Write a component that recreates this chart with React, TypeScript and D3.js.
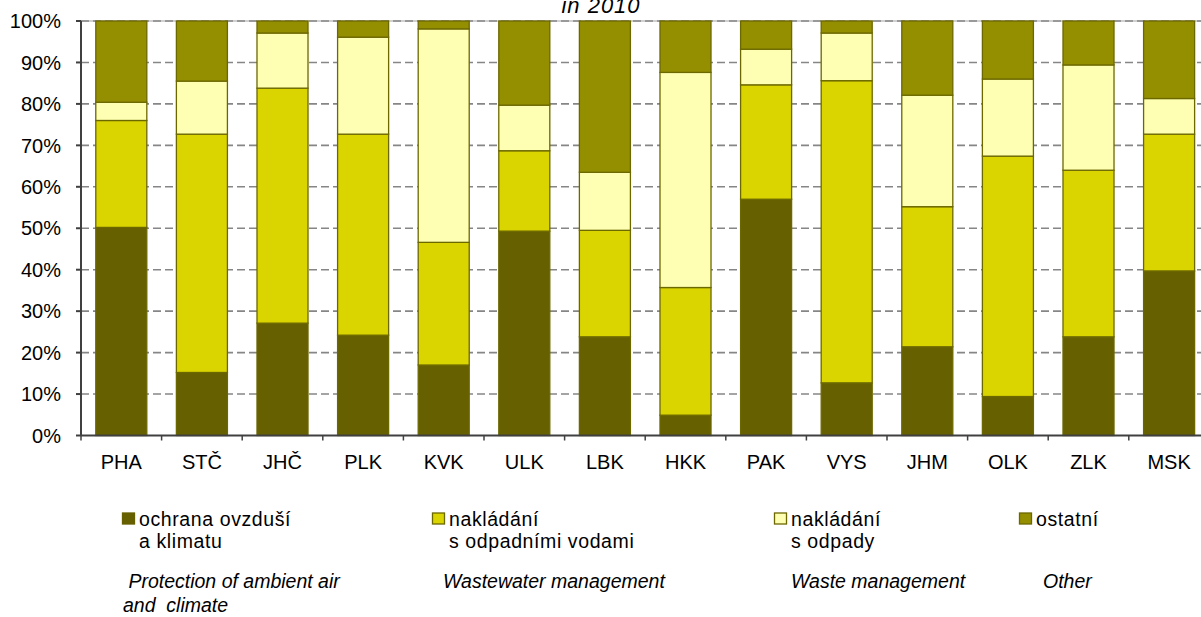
import React from "react";
import * as d3 from "d3";

const categories = ["PHA", "STČ", "JHČ", "PLK", "KVK", "ULK", "LBK", "HKK", "PAK", "VYS", "JHM", "OLK", "ZLK", "MSK"];
const airClimate = [50.2, 15.2, 27.1, 24.2, 17.0, 49.3, 23.8, 4.9, 57.0, 12.7, 21.4, 9.4, 23.8, 39.7];
const wastewater = [25.8, 57.5, 56.7, 48.5, 29.6, 19.4, 25.7, 30.8, 27.6, 72.9, 33.8, 58.0, 40.2, 33.0];
const waste = [4.4, 12.8, 13.3, 23.4, 51.5, 11.0, 14.0, 51.9, 8.6, 11.5, 26.9, 18.6, 25.4, 8.6];
const other = [19.6, 14.5, 2.9, 3.9, 1.9, 20.3, 36.5, 12.4, 6.8, 2.9, 17.9, 14.0, 10.6, 18.7];
const yTicks = [0, 10, 20, 30, 40, 50, 60, 70, 80, 90, 100];
const seriesKeys = ["air", "wastewater", "waste", "other"];
const seriesColors = ["#666000", "#dad400", "#ffffb3", "#948f00"];
const legendCz = [["ochrana ovzduší", "a klimatu"], ["nakládání", "s odpadními vodami"], ["nakládání", "s odpady"], ["ostatní"]];
const legendEn = [[" Protection of ambient air", "and  climate"], ["Wastewater management"], ["Waste management"], ["Other"]];
const titleText = "in 2010";

const W = 1201;
const H = 617;
const plotLeft = 81;
const plotRight = 81 + 14 * 80.6;
const plotTop = 21;
const plotBottom = 435.5;
const FONT = "'Liberation Sans', Arial, sans-serif";

export default function App() {
  const rows = categories.map((c, i) => ({
    cat: c,
    air: airClimate[i],
    wastewater: wastewater[i],
    waste: waste[i],
    other: other[i],
  }));
  const stack = d3.stack<any>().keys(seriesKeys);
  const layers = stack(rows);

  const x = d3.scaleBand<string>().domain(categories).range([plotLeft, plotRight]).padding(0);
  const y = d3.scaleLinear().domain([0, 100]).range([plotBottom, plotTop]);
  const barW = x.bandwidth() * 0.633;

  const legendX = [122, 432, 774, 1019];
  const legendEnX = [123, 443, 791, 1043];

  return (
    <svg
      width={W}
      height={H}
      style={{ position: "absolute", left: 0, top: 0, background: "#fff" }}
      fontFamily={FONT}
    >
      <rect x={0} y={0} width={W} height={H} fill="#fff" />
      <text x={601} y={13} textAnchor="middle" fontSize={22} fontStyle="italic" fill="#000" letterSpacing={1}>
        {titleText}
      </text>
      {/* top border */}
      <line x1={plotLeft} x2={W} y1={y(100)} y2={y(100)} stroke="#c0c0c0" strokeWidth={1.5} />
      {/* gridlines */}
      {yTicks.filter((t) => t > 0).map((t) => (
        <line
          key={"g" + t}
          x1={plotLeft}
          x2={W}
          y1={y(t)}
          y2={y(t)}
          stroke="#868686"
          strokeWidth={1.6}
          strokeDasharray="8,4"
        />
      ))}
      {/* bars */}
      {layers.map((layer, li) => (
        <g key={"l" + li}>
          {layer.map((d, i) => (
            <rect
              key={i}
              x={(x(categories[i]) as number) + (x.bandwidth() - barW) / 2}
              y={y(d[1])}
              width={barW}
              height={y(d[0]) - y(d[1])}
              fill={seriesColors[li]}
              stroke="#6c6800"
              strokeWidth={1.3}
            />
          ))}
        </g>
      ))}
      {/* y axis */}
      <line x1={plotLeft} x2={plotLeft} y1={plotTop} y2={plotBottom} stroke="#404040" strokeWidth={2} />
      {yTicks.map((t) => (
        <g key={"yt" + t}>
          <line x1={plotLeft - 5} x2={plotLeft} y1={y(t)} y2={y(t)} stroke="#404040" strokeWidth={2} />
          <text x={61} y={y(t)} dy="0.36em" textAnchor="end" fontSize={20} fill="#000">
            {t + "%"}
          </text>
        </g>
      ))}
      {/* x axis */}
      <line x1={plotLeft} x2={W} y1={plotBottom} y2={plotBottom} stroke="#404040" strokeWidth={2} />
      {categories.map((c, i) => (
        <g key={"xt" + c}>
          <line
            x1={(x(c) as number)}
            x2={(x(c) as number)}
            y1={plotBottom}
            y2={plotBottom + 5}
            stroke="#404040"
            strokeWidth={1.5}
          />
          <text x={(x(c) as number) + x.bandwidth() / 2} y={469} textAnchor="middle" fontSize={20} fill="#000">
            {c}
          </text>
        </g>
      ))}
      {/* legend */}
      {seriesKeys.map((k, i) => (
        <g key={"lg" + k}>
          <rect
            x={legendX[i] + 0.5}
            y={513}
            width={12}
            height={11}
            fill={seriesColors[i]}
            stroke={i === 0 ? "#666000" : "#6c6800"}
            strokeWidth={1.3}
          />
          {legendCz[i].map((line, j) => (
            <text
              key={j}
              x={legendX[i] + 17}
              y={526 + j * 22}
              fontSize={19.5}
              letterSpacing={0.6}
              fill="#000"
            >
              {line}
            </text>
          ))}
          {legendEn[i].map((line, j) => (
            <text
              key={"e" + j}
              x={legendEnX[i]}
              y={588 + j * 24}
              fontSize={19.5}
              fontStyle="italic"
              fill="#000"
              style={{ whiteSpace: "pre" }}
            >
              {line}
            </text>
          ))}
        </g>
      ))}
    </svg>
  );
}
